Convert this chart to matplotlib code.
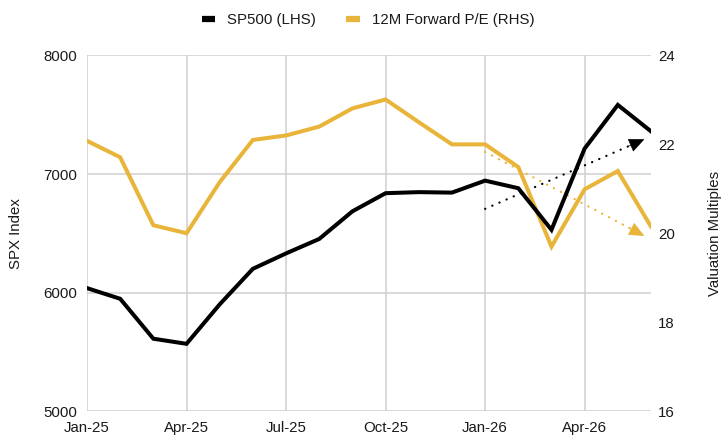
import matplotlib
matplotlib.use("Agg")
import matplotlib.pyplot as plt

plt.rcParams['font.family'] = ['Liberation Sans', 'DejaVu Sans']

months = ["Jan-25", "Feb-25", "Mar-25", "Apr-25", "May-25", "Jun-25", "Jul-25", "Aug-25",
          "Sep-25", "Oct-25", "Nov-25", "Dec-25", "Jan-26", "Feb-26", "Mar-26", "Apr-26",
          "May-26", "Jun-26"]
sp500 = [6037, 5947, 5610, 5567, 5900, 6200, 6330, 6452, 6685, 6838, 6847, 6843,
         6944, 6880, 6529, 7215, 7583, 7360]
fwd_pe = [22.08, 21.71, 20.18, 20.0, 21.15, 22.1, 22.2, 22.4, 22.81, 23.01, 22.5, 22.0,
          22.0, 21.49, 19.7, 20.99, 21.4, 20.15]
tick_labels = ["Jan-25", "Apr-25", "Jul-25", "Oct-25", "Jan-26", "Apr-26"]
left_ticks = [5000, 6000, 7000, 8000]
right_ticks = [16, 18, 20, 22, 24]
# trend arrows: (x_start, y_start, x_end, y_end)
sp_trend = (12, 6706, 16.8, 7293)
pe_trend = (12, 21.83, 16.8, 19.94)

BLACK = "#000000"
GOLD = "#E8B53A"
FS = 10.8

fig = plt.figure(figsize=(7.28, 4.44), dpi=100)
ax = fig.add_axes([87/728, 1-411/444, (651-87)/728, (411-55.5)/444])
ax2 = ax.twinx()

x = list(range(len(months)))
ax.set_xlim(0, len(months) - 1)
ax.set_ylim(5000, 8000)
ax2.set_ylim(16, 24)

ax.set_xticks([months.index(t) for t in tick_labels])
ax.set_xticklabels(tick_labels)
ax.set_yticks(left_ticks)
ax.set_yticklabels([str(v) for v in left_ticks])
ax2.set_yticks(right_ticks)
ax2.set_yticklabels([str(v) for v in right_ticks])

ax.grid(True, color="#cfcfcf", lw=1.1)
ax.set_axisbelow(True)
for a in (ax, ax2):
    for s in a.spines.values():
        s.set_visible(False)
ax.tick_params(axis='both', length=0, labelsize=FS, colors="#1a1a1a")
ax.tick_params(axis='y', pad=7)
ax.tick_params(axis='x', pad=7)
ax2.tick_params(axis='y', length=0, labelsize=FS, pad=5, colors="#1a1a1a")

ax.set_ylabel("SPX Index", fontsize=FS, labelpad=15, color="#1a1a1a")
ax2.set_ylabel("Valuation Multiples", fontsize=FS, labelpad=24, color="#1a1a1a")

# dotted trend lines with arrowheads
dot = dict(ls=(0, (0.1, 3.4)), lw=1.6, dash_capstyle='round', zorder=2)
xs, ys, xe, ye = sp_trend
fx = 0.93
ax2.plot([xs, xs + (xe - xs) * fx], [ys, ys + (ye - ys) * fx], color=BLACK,
         transform=ax.transData, **dot)
ax2.annotate("", xy=(xe, ye), xytext=(xs + (xe - xs) * 0.9, ys + (ye - ys) * 0.9),
             xycoords=ax.transData, textcoords=ax.transData,
             arrowprops=dict(arrowstyle="-|>,head_length=1.0,head_width=0.45",
                             color=BLACK, lw=0.5, shrinkA=0, shrinkB=0), zorder=2)
xs, ys, xe, ye = pe_trend
ax2.plot([xs, xs + (xe - xs) * fx], [ys, ys + (ye - ys) * fx], color=GOLD, **dot)
ax2.annotate("", xy=(xe, ye), xytext=(xs + (xe - xs) * 0.9, ys + (ye - ys) * 0.9),
             arrowprops=dict(arrowstyle="-|>,head_length=1.0,head_width=0.45",
                             color=GOLD, lw=0.5, shrinkA=0, shrinkB=0), zorder=2)

l2, = ax2.plot(x, fwd_pe, color=GOLD, lw=2.9, zorder=3, solid_joinstyle='miter',
               label="12M Forward P/E (RHS)")
l1, = ax2.plot(x, sp500, color=BLACK, lw=2.9, zorder=4, solid_joinstyle='miter',
               transform=ax.transData, label="SP500 (LHS)")
ax2.set_ylim(16, 24)
ax2.set_xlim(0, len(months) - 1)

leg = fig.legend(handles=[l1, l2], loc="center", bbox_to_anchor=(368/728, 1-20/444),
                 ncol=2, frameon=False, fontsize=FS, handlelength=0.9,
                 handletextpad=0.8, columnspacing=2.0)
for h in leg.legend_handles:
    h.set_linewidth(4.5)
    h.set_solid_capstyle('butt')
for t in leg.get_texts():
    t.set_color("#1a1a1a")

fig.savefig("out.png", dpi=100)
